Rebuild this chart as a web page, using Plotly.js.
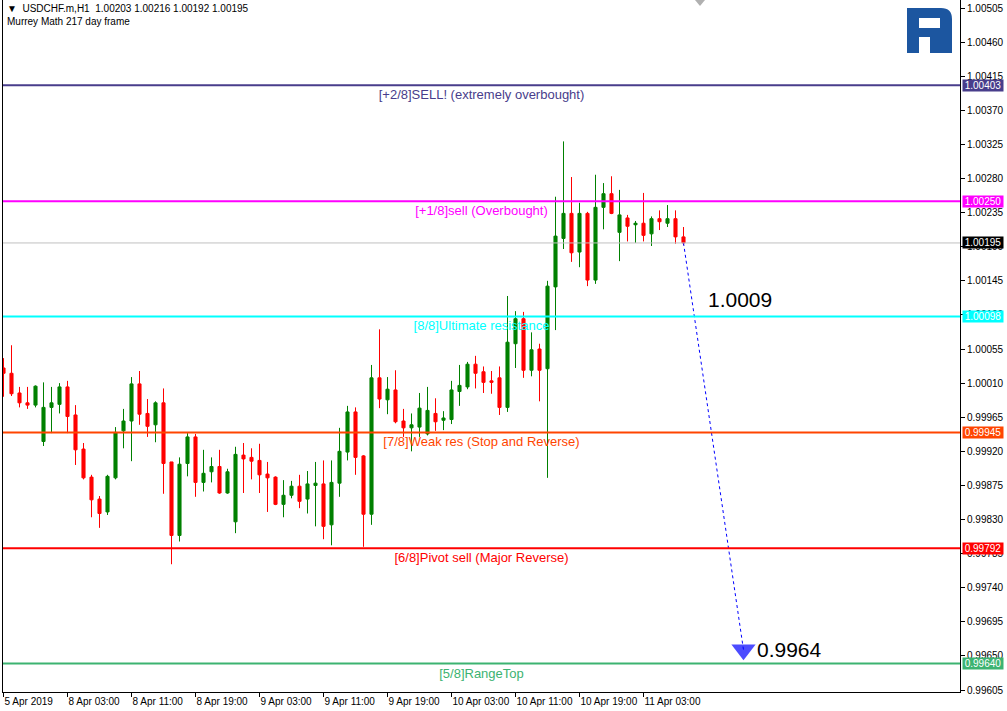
<!DOCTYPE html>
<html><head><meta charset="utf-8">
<script src="https://cdn.plot.ly/plotly-3.0.1.min.js"></script>
<style>html,body{margin:0;padding:0;background:#fff}#chart{width:1007px;height:711px}</style>
</head><body><div id="chart"></div>
<script>
// ---- data (USDCHF.m H1) ----
const openP = [1.00030,1.00023,0.99997,0.99984,0.99981,0.99933,0.99978,0.99982,1.00005,0.99968,
0.99923,0.99886,0.99857,0.99840,0.99885,0.99947,0.99960,1.00009,0.99970,0.99955,
0.99984,0.99906,0.99809,0.99904,0.99939,0.99879,0.99893,0.99900,0.99865,0.99827,
0.99915,0.99912,0.99908,0.99890,0.99886,0.99850,0.99862,0.99874,0.99857,0.99875,
0.99877,0.99823,0.99878,0.99919,0.99972,0.99914,0.99837,1.00017,0.99988,1.00001,
0.99960,0.99951,0.99952,0.99943,0.99970,0.99961,0.99962,0.99999,1.00005,1.00035,
1.00025,1.00013,1.00017,0.99978,1.00062,1.00095,1.00027,1.00055,1.00029,1.00137,
1.00201,1.00234,1.00183,1.00234,1.00146,1.00242,1.00260,1.00209,1.00228,1.00219,
1.00221,1.00207,1.00227,1.00221,1.00227,1.00203];
const highP = [1.00043,1.00060,1.00005,1.00005,1.00007,1.00011,1.00005,1.00010,1.00013,0.99981,
0.99931,0.99889,0.99861,0.99889,0.99952,0.99976,1.00018,1.00026,0.99989,0.99986,
1.00003,0.99906,0.99912,0.99944,0.99943,0.99922,0.99912,0.99922,0.99897,0.99926,
0.99931,0.99924,0.99930,0.99906,0.99887,0.99882,0.99881,0.99889,0.99894,0.99906,
0.99908,0.99908,0.99951,0.99980,0.99978,0.99915,1.00034,1.00081,1.00018,1.00027,
0.99976,0.99970,0.99997,1.00005,0.99990,0.99973,1.00013,1.00034,1.00038,1.00046,
1.00032,1.00026,1.00032,1.00125,1.00105,1.00104,1.00077,1.00062,1.00145,1.00256,
1.00329,1.00282,1.00248,1.00236,1.00285,1.00274,1.00283,1.00265,1.00232,1.00224,
1.00261,1.00230,1.00238,1.00245,1.00238,1.00216];
const lowP = [0.99992,0.99993,0.99978,0.99976,0.99978,0.99927,0.99944,0.99970,0.99944,0.99902,
0.99883,0.99833,0.99819,0.99836,0.99883,0.99924,0.99907,0.99955,0.99939,0.99932,
0.99864,0.99771,0.99801,0.99887,0.99860,0.99867,0.99879,0.99864,0.99864,0.99812,
0.99865,0.99883,0.99865,0.99840,0.99849,0.99833,0.99858,0.99845,0.99838,0.99821,
0.99804,0.99796,0.99860,0.99908,0.99889,0.99794,0.99823,0.99977,0.99969,0.99957,
0.99939,0.99920,0.99939,0.99941,0.99947,0.99948,0.99956,0.99980,1.00002,1.00003,
0.99997,0.99996,0.99968,0.99972,1.00030,1.00017,1.00019,0.99986,0.99885,1.00080,
1.00187,1.00170,1.00163,1.00138,1.00141,1.00213,1.00233,1.00171,1.00197,1.00195,
1.00197,1.00191,1.00212,1.00216,1.00194,1.00192];
const closeP = [1.00023,0.99996,0.99984,0.99981,1.00006,0.99978,0.99984,1.00005,0.99966,0.99922,
0.99885,0.99856,0.99838,0.99887,0.99945,0.99960,1.00009,0.99969,0.99953,0.99984,
0.99904,0.99809,0.99903,0.99939,0.99879,0.99891,0.99900,0.99865,0.99893,0.99916,
0.99910,0.99907,0.99889,0.99885,0.99850,0.99862,0.99874,0.99854,0.99877,0.99878,
0.99821,0.99879,0.99920,0.99972,0.99912,0.99837,1.00017,0.99989,1.00002,0.99959,
0.99951,0.99955,0.99977,0.99974,0.99959,0.99964,1.00001,1.00007,1.00035,1.00023,
1.00011,1.00011,0.99978,1.00064,1.00095,1.00027,1.00054,1.00027,1.00138,1.00204,
1.00234,1.00182,1.00234,1.00146,1.00242,1.00260,1.00234,1.00232,1.00217,1.00221,
1.00205,1.00227,1.00223,1.00227,1.00203,1.00195];

const xTickPos  = [0, 8, 16, 24, 32, 40, 48, 56, 64, 72, 80];
const xTickText = ['5 Apr 2019','8 Apr 03:00','8 Apr 11:00','8 Apr 19:00','9 Apr 03:00','9 Apr 11:00',
                   '9 Apr 19:00','10 Apr 03:00','10 Apr 11:00','10 Apr 19:00','11 Apr 03:00'];
const yTickVals = [0.99605,0.99650,0.99695,0.99740,0.99785,0.99830,0.99875,0.99920,0.99965,1.00010,
                   1.00055,1.00100,1.00145,1.00190,1.00235,1.00280,1.00325,1.00370,1.00415,1.00460,1.00505];

const levelNames  = ['[+2/8]SELL! (extremely overbought)','[+1/8]sell (Overbought)','[8/8]Ultimate resistance',
                     '[7/8]Weak res (Stop and Reverse)','[6/8]Pivot sell (Major Reverse)','[5/8]RangeTop'];
const levelValues = [1.00403, 1.00250, 1.00098, 0.99945, 0.99792, 0.99640];
const levelColors = ['#483D8B','#FF00FF','#00FFFF','#FF4500','#FF0000','#3CB371'];
const lastPrice = 1.00195;

const headerLine1 = '\u25BC&nbsp;&nbsp;USDCHF.m,H1&nbsp;&nbsp;1.00203 1.00216 1.00192 1.00195';
const headerLine2 = 'Murrey Math 217 day frame';

const forecastX = [85, 92.5];
const forecastY = [1.00195, 0.99658];
const forecastTexts = ['1.0009', '0.9964'];
const forecastTextX = [92.06, 93.9];
const forecastTextY = [1.00120, 0.99658];

// ---- chart ----
const FONT = 'Liberation Sans, Arial, sans-serif';
const barX = openP.map((_, i) => i);

const traces = [
  {
    type: 'candlestick', x: barX, open: openP, high: highP, low: lowP, close: closeP,
    increasing: {line: {color: '#008000', width: 1}, fillcolor: '#008000'},
    decreasing: {line: {color: '#FF0000', width: 1}, fillcolor: '#FF0000'},
    whiskerwidth: 0, hoverinfo: 'skip', showlegend: false
  },
  {
    type: 'scatter', mode: 'lines+markers', x: forecastX, y: forecastY,
    line: {color: '#0000FF', width: 1, dash: '3px,3px'},
    marker: {symbol: 'triangle-down', size: [0, 21], color: '#0000FF', line: {width: 0}},
    hoverinfo: 'skip', showlegend: false
  }
];

const px = x => (x - 3) / 957;
const py = y => (692 - y) / 692;

const shapes = [];
shapes.push({type: 'line', xref: 'paper', x0: 0, x1: 1, yref: 'y', y0: lastPrice, y1: lastPrice,
             line: {color: '#C0C0C0', width: 1}, layer: 'above'});
levelValues.forEach((v, i) => {
  shapes.push({type: 'line', xref: 'paper', x0: 0, x1: 1, yref: 'y', y0: v, y1: v,
    line: {color: levelColors[i], width: 2}, layer: 'above',
    label: {text: levelNames[i], textposition: 'middle', yanchor: 'top', padding: 1,
            font: {color: levelColors[i], size: 13, family: FONT}}});
});
// chart-shift marker
shapes.push({type: 'path', xref: 'paper', yref: 'paper',
  path: `M${px(695)},${py(0)} L${px(705)},${py(0)} L${px(700)},${py(6)} Z`,
  fillcolor: '#B0B0B0', line: {width: 0}, layer: 'above'});
// logo
shapes.push({type: 'path', xref: 'paper', yref: 'paper',
  path: `M${px(907)},${py(8)} L${px(941)},${py(8)} Q${px(952)},${py(8)} ${px(952)},${py(19)} L${px(952)},${py(53)} L${px(930)},${py(53)} L${px(930)},${py(37)} L${px(919)},${py(37)} L${px(919)},${py(53)} L${px(907)},${py(53)} Z`,
  fillcolor: '#1C56A0', line: {width: 0}, layer: 'above'});
shapes.push({type: 'rect', xref: 'paper', yref: 'paper', x0: px(919), x1: px(940), y0: py(28), y1: py(18),
  fillcolor: '#FFFFFF', line: {width: 0}, layer: 'above'});

const annotations = [];
annotations.push({xref: 'paper', yref: 'paper', x: 0, y: 1, xanchor: 'left', yanchor: 'top', xshift: 2, yshift: -1,
  text: headerLine1, showarrow: false, font: {size: 10, family: FONT, color: '#000'}});
annotations.push({xref: 'paper', yref: 'paper', x: 0, y: 1, xanchor: 'left', yanchor: 'top', xshift: 2, yshift: -14,
  text: headerLine2, showarrow: false, font: {size: 10, family: FONT, color: '#000'}});
const boxVals = levelValues.concat([lastPrice]);
const boxCols = levelColors.concat(['#000000']);
boxVals.forEach((v, i) => {
  annotations.push({xref: 'paper', x: 1, xanchor: 'left', xshift: 2, yref: 'y', y: v,
    text: v.toFixed(5), showarrow: false, bgcolor: boxCols[i], width: 40, height: 11, borderpad: 0,
    font: {color: '#FFFFFF', size: 10, family: FONT}});
});
forecastTexts.forEach((t, i) => {
  annotations.push({xref: 'x', yref: 'y', x: forecastTextX[i], y: forecastTextY[i],
    xanchor: i === 0 ? 'center' : 'left', yanchor: 'middle', text: t, showarrow: false,
    font: {size: 21, family: FONT, color: '#000'}});
});

const layout = {
  width: 1007, height: 711,
  margin: {l: 3, r: 47, t: 0, b: 19, pad: 0},
  paper_bgcolor: '#FFFFFF', plot_bgcolor: '#FFFFFF',
  showlegend: false, boxgap: 0.45,
  font: {family: FONT, size: 10, color: '#000'},
  xaxis: {range: [-0.0625, 119.5625], showgrid: false, zeroline: false, showline: true, linecolor: '#000', linewidth: 1,
          ticks: 'outside', ticklen: 4, tickcolor: '#000', tickvals: xTickPos, ticktext: xTickText, tickangle: 0,
          ticklabelposition: 'outside right', tickfont: {size: 10, family: FONT, color: '#000'},
          rangeslider: {visible: false}, fixedrange: true, automargin: false},
  yaxis: {side: 'right', range: [0.996024, 1.005156], showgrid: false, zeroline: false, showline: true, mirror: true,
          linecolor: '#000', linewidth: 1, ticks: 'outside', ticklen: 4, tickcolor: '#000',
          tickvals: yTickVals, ticktext: yTickVals.map(v => v.toFixed(5)),
          tickfont: {size: 10, family: FONT, color: '#000'}, fixedrange: true, automargin: false},
  shapes: shapes, annotations: annotations
};

Plotly.newPlot('chart', traces, layout, {displayModeBar: false, staticPlot: true});
</script>
</body></html>
